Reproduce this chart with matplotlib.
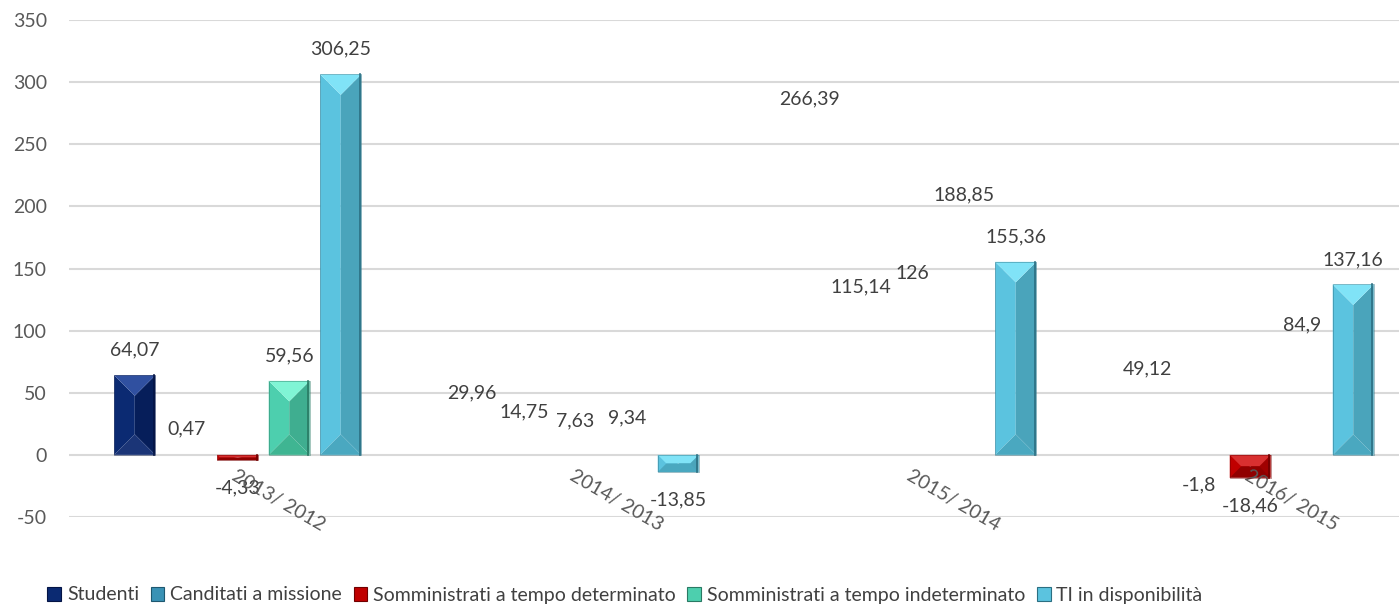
"""
Variazione percentuale per tipologia - bar chart con bevel stile Excel
"""

import numpy as np
import matplotlib.pyplot as plt
from matplotlib.patches import Polygon, Patch

# Data
categories = ['2013/ 2012', '2014/ 2013', '2015/ 2014', '2016/ 2015']
series = ['Studenti', 'Canditati a missione', 'Somministrati a tempo determinato',
          'Somministrati a tempo indeterminato', 'TI in disponibilità']
studenti = [64.07, 29.96, 266.39, 49.12]
candidati = [0.47, 14.75, 115.14, -1.8]
somm_det = [-4.33, 7.63, 126, -18.46]
somm_indet = [59.56, 9.34, 188.85, 84.9]
ti_disp = [306.25, -13.85, 155.36, 137.16]
values = [studenti, candidati, somm_det, somm_indet, ti_disp]

# in the original only these bars are rendered, the rest show just the label
drawn = {(0, 0), (0, 2), (0, 3), (0, 4), (1, 4), (2, 4), (3, 2), (3, 4)}

# colours: (left face, right face, top bevel, bottom bevel, edge)
palette = [
    ('#0B2A72', '#061E5A', '#3050A0', '#1B3577', '#041445'),
    ('#3A92B5', '#2F7C9B', '#5CC0E0', '#3586A6', '#1E5870'),
    ('#C00000', '#A00000', '#D83030', '#900000', '#700000'),
    ('#4DCFAE', '#3FAE90', '#80F5D5', '#3FB592', '#2A7A64'),
    ('#5BC3DF', '#4AA4BB', '#80E3F7', '#4AA8C0', '#2B6F82'),
]

plt.rcParams['font.family'] = ['Lato', 'DejaVu Sans']
plt.rcParams['axes.unicode_minus'] = False

W, H = 1399, 613
fig = plt.figure(figsize=(W / 100, H / 100), dpi=100)
ax_l, ax_r, ax_t, ax_b = 69, 1399, 20, 517
ax = fig.add_axes([ax_l / W, 1 - ax_b / H, (ax_r - ax_l) / W, (ax_b - ax_t) / H])

cat_px = 337.5
xmax = -0.5 + (ax_r - ax_l) / cat_px
ax.set_xlim(-0.5, xmax)
ax.set_ylim(-50, 350)

sx = (ax_r - ax_l) / (xmax + 0.5)   # px per x unit
sy = (ax_b - ax_t) / 400.0          # px per y unit

step = 51.5 / cat_px
width = 41 / cat_px
x = np.arange(len(categories))

for s, vals in enumerate(values):
    left, right, top_c, bot_c, edge = palette[s]
    xs = x + (s - 2) * step
    for c, v in enumerate(vals):
        label = f"{v:g}".replace('.', ',')
        off = 18 if v >= 0 else -20
        ax.annotate(label, (xs[c], v), xytext=(0, off), textcoords='offset points',
                    ha='center', va='center', fontsize=14, color='#404040')
        if (c, s) not in drawn:
            continue
        x0, x1 = xs[c] - width / 2, xs[c] + width / 2
        y_top, y_bot = max(v, 0), min(v, 0)
        d_px = min(width * sx, (y_top - y_bot) * sy) / 2
        dx, dy = d_px / sx, d_px / sy
        xm = xs[c]
        polys = [
            ([(x0, y_top), (xm, y_top - dy), (xm, y_bot + dy), (x0, y_bot)], left),
            ([(xm, y_top - dy), (x1, y_top), (x1, y_bot), (xm, y_bot + dy)], right),
            ([(x0, y_top), (x1, y_top), (x1 - dx, y_top - dy), (x0 + dx, y_top - dy)], top_c),
            ([(x0, y_bot), (x1, y_bot), (x1 - dx, y_bot + dy), (x0 + dx, y_bot + dy)], bot_c),
        ]
        for pts, col in polys:
            ax.add_patch(Polygon(pts, closed=True, facecolor=col, edgecolor='none', zorder=3))
        ax.add_patch(Polygon([(x0, y_top), (x1, y_top), (x1, y_bot), (x0, y_bot)], closed=True,
                             facecolor='none', edgecolor=edge, linewidth=0.5, alpha=0.6, zorder=4))
        ax.plot([x1 - 1.5 / sx] * 2, [y_bot, y_top], color=edge, lw=1.2, zorder=4)

# axes styling
ax.set_yticks(np.arange(-50, 351, 50))
ax.tick_params(axis='y', length=0, pad=16, labelsize=14, labelcolor='#595959')
ax.set_xticks([])
for sp in ax.spines.values():
    sp.set_visible(False)
ax.grid(axis='y', color='#D9D9D9', linewidth=1.5)
ax.set_axisbelow(True)

for c, cat in enumerate(categories):
    ax.annotate(cat, (x[c], 0), xytext=(0, -9), textcoords='offset points',
                ha='left', va='top', rotation=-30, rotation_mode='anchor',
                fontsize=14, color='#595959')

handles = [Patch(facecolor=p[0], edgecolor=p[4], linewidth=0.8) for p in palette]
fig.legend(handles, series, loc='center', bbox_to_anchor=(625 / W, 1 - 595 / H),
           ncol=5, frameon=False, fontsize=14, labelcolor='#404040',
           handlelength=0.7, handleheight=0.7, handletextpad=0.3, columnspacing=0.6)

fig.savefig('out.png', dpi=100)
